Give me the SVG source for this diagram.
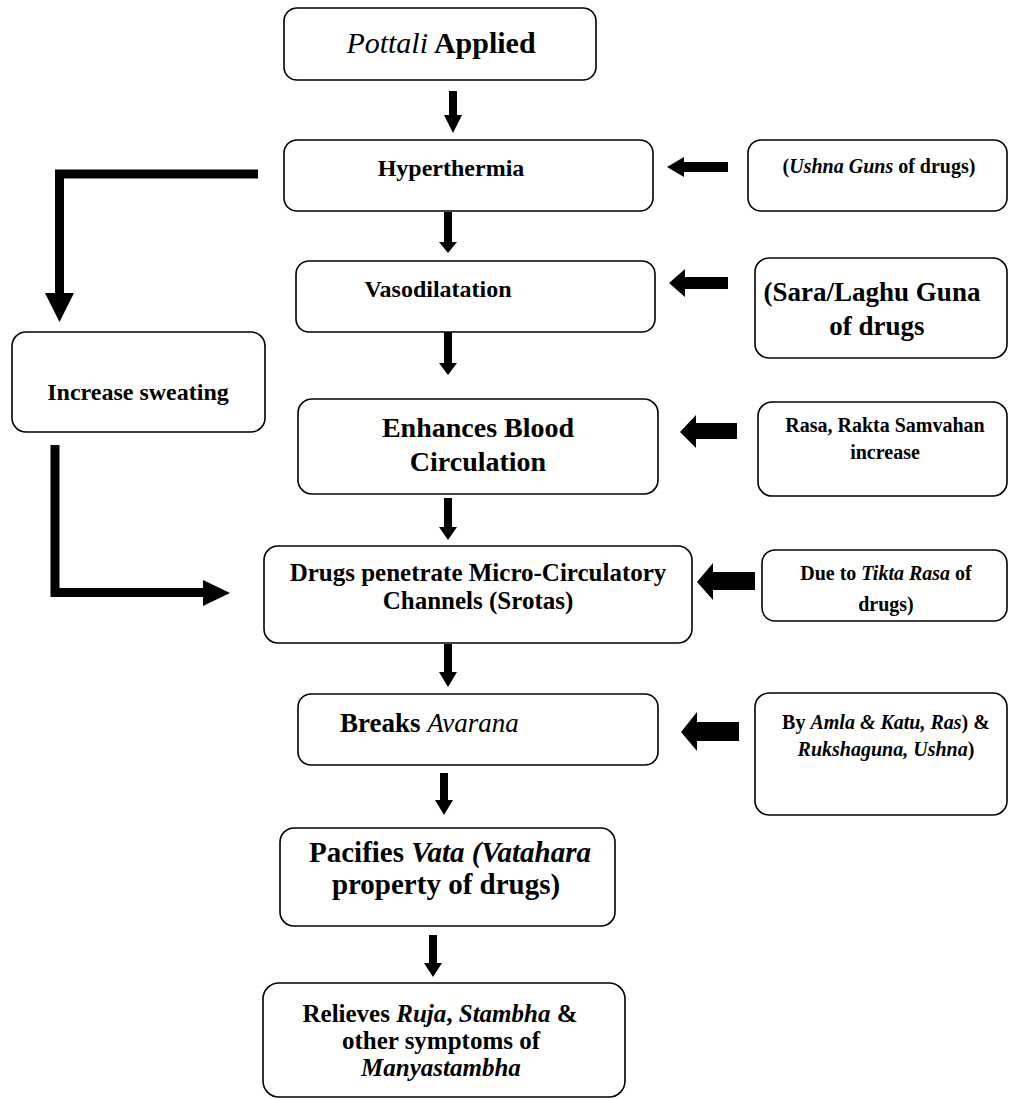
<svg xmlns="http://www.w3.org/2000/svg" width="1009" height="1099" viewBox="0 0 1009 1099">
<style>
.box{fill:#fff;stroke:#000;stroke-width:1.6}
text{font-family:"Liberation Serif","Times New Roman",serif;font-weight:bold;fill:#000;text-anchor:middle}
.i{font-style:italic}
.n{font-weight:normal}
.ar{fill:#000}
.ln{fill:none;stroke:#000;stroke-width:9;stroke-linejoin:miter;stroke-linecap:butt}
</style>
<defs>
<clipPath id="clipTikta"><rect x="762" y="550" width="246" height="71"/></clipPath>
</defs>
<rect width="1009" height="1099" fill="#fff"/>

<g id="connectors">
  <!-- main vertical arrows -->
  <polygon class="ar" points="449,91 457,91 457,115 462,115 453,133 444,115 449,115"/>
  <polygon class="ar" points="444,212 452,212 452,242 457,242 448,253 439,242 444,242"/>
  <polygon class="ar" points="444,332 452,332 452,363 457,363 448,375 439,363 444,363"/>
  <polygon class="ar" points="444,498 452,498 452,527 457,527 448,540 439,527 444,527"/>
  <polygon class="ar" points="444,644 452,644 452,672 457,672 448,687 439,672 444,672"/>
  <polygon class="ar" points="440,773 448,773 448,800 453,800 444,815 435,800 440,800"/>
  <polygon class="ar" points="429,935 437,935 437,963 442,963 433,977 424,963 429,963"/>
  <!-- side arrows from right boxes -->
  <polygon class="ar" points="728,162 728,172 684,172 684,177 667,167 684,157 684,162"/>
  <polygon class="ar" points="728,277 728,289 685,289 685,297 669,283 685,269 685,277"/>
  <polygon class="ar" points="737,423 737,439 696,439 696,448 680,432 696,415 696,423"/>
  <polygon class="ar" points="755,572 755,590 713,590 713,600 697,582 713,563 713,572"/>
  <polygon class="ar" points="739,722 739,741 697,741 697,751 681,732 697,712 697,722"/>
  <!-- Hyperthermia to Increase sweating -->
  <polyline class="ln" points="258,174 59.5,174 59.5,295"/>
  <polygon class="ar" points="45,293 74,293 59.5,322"/>
  <!-- Increase sweating to Drugs penetrate -->
  <polyline class="ln" points="55,445 55,592.5 205,592.5"/>
  <polygon class="ar" points="203,580 203,606 230,593"/>
</g>

<g id="n-pottali">
  <rect class="box" x="284" y="8" width="312" height="72" rx="13"/>
  <text x="441" y="53" font-size="30"><tspan class="i n">Pottali</tspan> Applied</text>
</g>

<g id="n-hyperthermia">
  <rect class="box" x="284" y="140" width="369" height="71" rx="13"/>
  <text x="451" y="176" font-size="24">Hyperthermia</text>
</g>

<g id="n-ushna">
  <rect class="box" x="748" y="140" width="259" height="71" rx="13"/>
  <text x="879" y="173" font-size="20">(<tspan class="i">Ushna Guns</tspan> of drugs)</text>
</g>

<g id="n-vasodilatation">
  <rect class="box" x="296" y="261" width="359" height="71" rx="13"/>
  <text x="438" y="297" font-size="24">Vasodilatation</text>
</g>

<g id="n-sara">
  <rect class="box" x="755" y="258" width="252" height="100" rx="14"/>
  <text x="872" y="301" font-size="27">(Sara/Laghu Guna</text>
  <text x="877" y="335" font-size="27">of drugs</text>
</g>

<g id="n-sweating">
  <rect class="box" x="12" y="332" width="253" height="100" rx="14"/>
  <text x="138" y="400" font-size="24">Increase sweating</text>
</g>

<g id="n-enhances">
  <rect class="box" x="298" y="399" width="360" height="95" rx="14"/>
  <text x="478" y="437" font-size="28">Enhances Blood</text>
  <text x="478" y="471" font-size="28">Circulation</text>
</g>

<g id="n-rasa">
  <rect class="box" x="758" y="402" width="249" height="94" rx="14"/>
  <text x="885" y="432" font-size="20">Rasa, Rakta Samvahan</text>
  <text x="885" y="459" font-size="20">increase</text>
</g>

<g id="n-drugs">
  <rect class="box" x="264" y="546" width="428" height="97" rx="14"/>
  <text x="478" y="581" font-size="25">Drugs penetrate Micro-Circulatory</text>
  <text x="478" y="609" font-size="25">Channels (Srotas)</text>
</g>

<g id="n-tikta">
  <rect class="box" x="762" y="550" width="245" height="71" rx="13"/>
  <g clip-path="url(#clipTikta)">
    <text x="886" y="580" font-size="20">Due to <tspan class="i">Tikta Rasa</tspan> of</text>
    <text x="886" y="611" font-size="20">drugs)</text>
  </g>
</g>

<g id="n-breaks">
  <rect class="box" x="298" y="694" width="360" height="71" rx="13"/>
  <text x="340" y="732" font-size="27" style="text-anchor:start">Breaks <tspan class="i n">Avarana</tspan></text>
</g>

<g id="n-byamla">
  <rect class="box" x="755" y="693" width="252" height="122" rx="14"/>
  <text x="886" y="729" font-size="20">By <tspan class="i">Amla &amp; Katu, Ras</tspan>) &amp;</text>
  <text x="886" y="756" font-size="20"><tspan class="i">Rukshaguna, Ushna</tspan>)</text>
</g>

<g id="n-pacifies">
  <rect class="box" x="280" y="828" width="335" height="98" rx="14"/>
  <text x="450" y="862" font-size="29">Pacifies <tspan class="i">Vata (Vatahara</tspan></text>
  <text x="446" y="894" font-size="29">property of drugs)</text>
</g>

<g id="n-relieves">
  <rect class="box" x="263" y="983" width="362" height="114" rx="16"/>
  <text x="440" y="1022" font-size="25">Relieves <tspan class="i">Ruja</tspan>, <tspan class="i">Stambha</tspan> &amp;</text>
  <text x="441" y="1049" font-size="25">other symptoms of</text>
  <text x="441" y="1076" font-size="25" class="i">Manyastambha</text>
</g>
</svg>
